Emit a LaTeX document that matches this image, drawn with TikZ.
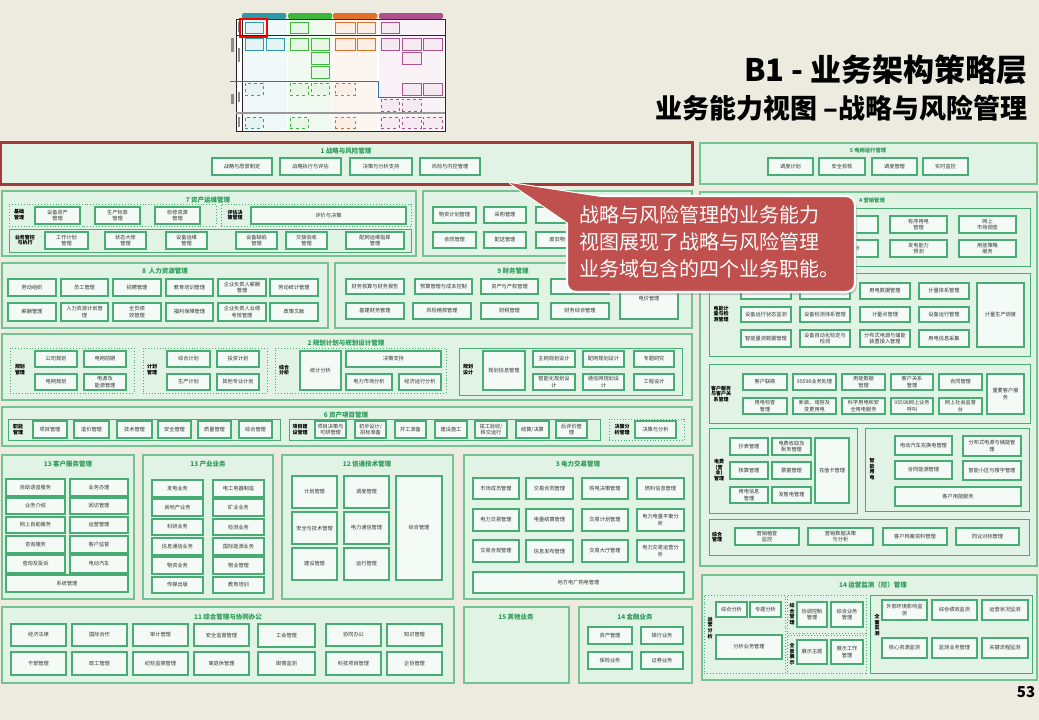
\documentclass[tikz,border=0pt]{standalone}
\usepackage{fontspec}
\setmainfont{Noto Sans CJK SC}
\usetikzlibrary{shadows}
\definecolor{bg}{HTML}{EDEAE0}
\definecolor{secfill}{HTML}{E0F3E5}
\definecolor{secline}{HTML}{72C493}
\definecolor{boxfill}{HTML}{F4FBF6}
\definecolor{boxline}{HTML}{48AD75}
\definecolor{ttl}{HTML}{2E9B58}
\definecolor{txt}{HTML}{333333}
\definecolor{callred}{HTML}{C0504D}
\definecolor{hired}{HTML}{A33A3A}
\definecolor{thteal}{HTML}{2E9AA8}
\definecolor{thgreen}{HTML}{3DB83A}
\definecolor{thorange}{HTML}{E0702A}
\definecolor{thpurple}{HTML}{B0508F}
\definecolor{thblue}{HTML}{2F6FB5}
\tikzset{
 sec/.style={draw=secline, fill=secfill, line width=1.2pt, rectangle, inner sep=0},
 ib/.style={draw=boxline, fill=boxfill, line width=1.1pt, rectangle, inner sep=0, align=center, font=\fontsize{5.2}{6.2}\selectfont, text=txt},
 grp/.style={draw=boxline, line width=0.9pt, rectangle, inner sep=0},
 dgrp/.style={draw=boxline, line width=0.9pt, dotted, rectangle, inner sep=0},
 ttlf/.style={text=ttl, font=\fontsize{6.5}{7}\selectfont\bfseries, inner sep=0},
 ttls/.style={text=ttl, font=\fontsize{5.3}{6}\selectfont\bfseries, inner sep=0},
 lbl/.style={font=\fontsize{5}{5.8}\selectfont\bfseries, align=center, inner sep=0, text=black},
 tic/.style={draw=#1, fill=#1!12, line width=0.7pt, rectangle, inner sep=0},
 ticd/.style={draw=#1, fill=#1!12, line width=0.7pt, dashed, rectangle, inner sep=0},
 tmark/.style={fill=black!45, rectangle, inner sep=0},
}
\newcommand\RB[7]{\node[#6,minimum width={(#4)-(#2)},minimum height={(#5)-(#3)}] (#1) at ({((#2)+(#4))/2},{((#3)+(#5))/2}) {#7};}
\newcommand\IB[6]{\RB{#1}{#2}{#3}{#4}{#5}{ib}{#6}}
\begin{document}
\begin{tikzpicture}[x=1pt,y=-1pt]
\useasboundingbox (0,0) rectangle (1039,720);
\fill[bg] (0,0) rectangle (1039,720);

% ---------- thumbnail ----------
\RB{thf}{236}{19}{445}{131}{draw=black!85, fill=white, line width=0.6pt, rectangle, inner sep=0}{}
\RB{thc1}{243}{20}{287}{130}{fill=thteal!7, rectangle, inner sep=0}{}
\RB{thc2}{288}{20}{332}{130}{fill=thgreen!7, rectangle, inner sep=0}{}
\RB{thc3}{333}{20}{377}{130}{fill=thorange!7, rectangle, inner sep=0}{}
\RB{thc4}{379}{20}{444}{130}{fill=thpurple!7, rectangle, inner sep=0}{}
\RB{thh1}{242}{13}{286}{19}{fill=thteal, rounded corners=1.5pt, rectangle, inner sep=0}{}
\RB{thh2}{288}{13}{332}{19}{fill=thgreen, rounded corners=1.5pt, rectangle, inner sep=0}{}
\RB{thh3}{333}{13}{377}{19}{fill=thorange, rounded corners=1.5pt, rectangle, inner sep=0}{}
\RB{thh4}{379}{13}{443}{19}{fill=thpurple, rounded corners=1.5pt, rectangle, inner sep=0}{}
\draw[black!85, line width=0.5pt] (242,19) -- (242,131);
\draw[black!85, line width=0.5pt] (236,35) -- (445,35);
\draw[thblue, line width=0.7pt] (230,81) -- (378,81) -- (378,97) -- (445,97);
\draw[black!40, line width=1.5pt] (236,113) -- (445,113);
\RB{tm1}{238}{22}{240}{32}{tmark}{}
\RB{tm2}{238}{48}{240}{62}{tmark}{}
\RB{tm3}{238}{92}{240}{102}{tmark}{}
\RB{tm4}{238}{117}{240}{127}{tmark}{}
\RB{tm5}{231}{38}{234}{52}{tmark}{}
\RB{tm6}{231}{94}{234}{104}{tmark}{}
\RB{ti1}{245}{22}{263}{33}{tic=thteal}{}
\RB{ti2}{290}{22}{308}{33}{tic=thgreen}{}
\RB{ti3}{335}{22}{355}{33}{tic=thorange}{}
\RB{ti4}{357}{22}{375}{33}{tic=thorange}{}
\RB{ti5}{381}{22}{399}{33}{tic=thpurple}{}
\RB{ti6}{245}{38}{263}{50}{tic=thteal}{}
\RB{ti7}{266}{38}{284}{50}{tic=thteal}{}
\RB{ti8}{290}{38}{308}{50}{tic=thgreen}{}
\RB{ti9}{311}{38}{329}{50}{tic=thgreen}{}
\RB{ti10}{335}{38}{355}{50}{tic=thorange}{}
\RB{ti11}{357}{38}{375}{50}{tic=thorange}{}
\RB{ti12}{381}{38}{399}{50}{tic=thpurple}{}
\RB{ti13}{402}{38}{421}{50}{tic=thpurple}{}
\RB{ti14}{423}{38}{442}{50}{tic=thpurple}{}
\RB{ti15}{311}{52}{329}{64}{tic=thgreen}{}
\RB{ti16}{311}{66}{329}{78}{tic=thgreen}{}
\RB{ti17}{402}{52}{421}{64}{tic=thpurple}{}
\RB{ti18}{245}{83}{263}{95}{ticd=thteal}{}
\RB{ti19}{290}{83}{308}{95}{ticd=thgreen}{}
\RB{ti20}{311}{83}{329}{95}{ticd=thgreen}{}
\RB{ti21}{335}{83}{355}{95}{ticd=thorange}{}
\RB{ti22}{402}{83}{421}{95}{tic=thpurple}{}
\RB{ti23}{423}{83}{442}{95}{tic=thpurple}{}
\RB{ti24}{381}{99}{399}{111}{ticd=thpurple}{}
\RB{ti25}{402}{99}{421}{111}{ticd=thpurple}{}
\RB{ti26}{245}{117}{263}{128}{ticd=thteal}{}
\RB{ti27}{290}{117}{308}{128}{ticd=thgreen}{}
\RB{ti28}{335}{117}{355}{128}{ticd=thorange}{}
\RB{ti29}{381}{117}{399}{128}{ticd=thpurple}{}
\RB{ti30}{402}{117}{421}{128}{ticd=thpurple}{}
\RB{ti31}{423}{117}{442}{128}{ticd=thpurple}{}
\RB{thr}{240}{19}{267}{37}{draw=red, line width=2.2pt, rectangle, inner sep=0}{}

% ---------- headings ----------
\node[anchor=east, inner sep=0] (h1) at (1028,70) {\fontsize{31}{31}\selectfont\bfseries B1 - 业务架构策略层};
\node[anchor=east, inner sep=0] (h2) at (1028,108) {\fontsize{27}{27}\selectfont\bfseries 业务能力视图 –战略与风险管理};

% ---------- 1 ----------
\RB{s1}{1}{143}{692}{184}{sec}{}
\node[ttlf] (t1) at (346,151) {1 战略与风险管理};
\IB{b1a}{212}{158}{272}{175}{战略与愿景制定}
\IB{b1b}{280}{158}{341}{175}{战略执行与评估}
\IB{b1c}{350}{158}{412}{175}{决策与分析支持}
\IB{b1d}{420}{158}{480}{175}{风险与内控管理}
\draw[hired, line width=2.6pt] (s1.north west) rectangle (s1.south east);

% ---------- 5 ----------
\RB{s5}{700}{143}{1037}{184}{sec}{}
\node[ttls] (t5) at (868,150) {5 电网运行管理};
\IB{b5a}{768}{158}{813}{175}{调度计划}
\IB{b5b}{819}{158}{865}{175}{安全校核}
\IB{b5c}{872}{158}{917}{175}{调度管理}
\IB{b5d}{923}{158}{968}{175}{实时监控}

% ---------- 7 ----------
\RB{s7}{2}{191}{416}{256}{sec}{}
\node[ttlf] (t7) at (208,200) {7 资产运维管理};
\RB{g7a}{9}{204}{216}{226}{dgrp}{}
\node[lbl] (l7a) at (19,215) {基础\\管理};
\IB{b7a}{35}{207}{80}{224}{设备资产\\管理}
\IB{b7b}{95}{207}{140}{224}{生产标准\\管理}
\IB{b7c}{155}{207}{200}{224}{检修资源\\管理}
\RB{g7b}{221}{204}{411}{226}{dgrp}{}
\node[lbl] (l7b) at (235,215) {评估决\\策管理};
\IB{b7d}{251}{207}{406}{224}{评价与决策}
\RB{g7c}{9}{229}{411}{252}{grp}{}
\node[lbl] (l7c) at (25,240) {业务管控\\与执行};
\IB{b7e}{45}{232}{88}{249}{工作计划\\管理}
\IB{b7f}{105}{232}{146}{249}{状态大修\\管理}
\IB{b7g}{166}{232}{207}{249}{设备运维\\管理}
\IB{b7h}{236}{232}{277}{249}{设备缺陷\\管理}
\IB{b7i}{286}{232}{327}{249}{交接验收\\管理}
\IB{b7j}{346}{232}{404}{249}{配网运维指挥\\管理}

% ---------- 物资 ----------
\RB{s10}{423}{191}{692}{256}{sec}{}
\node[ttlf, anchor=west] (t10) at (547,200) {物资管理};
\IB{b10a}{433}{207}{476}{223}{物资计划管理}
\IB{b10b}{484}{207}{526}{223}{采购管理}
\IB{b10c}{536}{207}{590}{223}{}
\IB{b10d}{433}{232}{476}{248}{合同管理}
\IB{b10e}{484}{232}{526}{248}{配送管理}
\IB{b10f}{536}{232}{594}{248}{废旧物资管理}

% ---------- 8 ----------
\RB{s8}{2}{263}{328}{328}{sec}{}
\node[ttlf] (t8) at (165,271) {8 \ 人力资源管理};
\IB{b8a}{8}{279}{56}{296}{劳动组织}
\IB{b8b}{61}{279}{108}{296}{员工管理}
\IB{b8c}{113}{279}{161}{296}{招聘管理}
\IB{b8d}{166}{279}{213}{296}{教育培训管理}
\IB{b8e}{218}{279}{266}{296}{企业负责人薪酬\\管理}
\IB{b8f}{270}{279}{318}{296}{劳动统计管理}
\IB{b8g}{8}{303}{56}{321}{薪酬管理}
\IB{b8h}{61}{303}{108}{321}{人力资源计划管\\理}
\IB{b8i}{113}{303}{161}{321}{全员绩\\效管理}
\IB{b8j}{166}{303}{213}{321}{福利保障管理}
\IB{b8k}{218}{303}{266}{321}{企业负责人业绩\\考核管理}
\IB{b8l}{270}{303}{318}{321}{政策文献}

% ---------- 9 ----------
\RB{s9}{335}{263}{692}{328}{sec}{}
\node[ttlf] (t9) at (513,271) {9 财务管理};
\IB{b9a}{346}{279}{404}{294}{财务核算与财务报告}
\IB{b9b}{415}{279}{472}{294}{预算管理与成本控制}
\IB{b9c}{481}{279}{538}{294}{资产与产权管理}
\IB{b9d}{551}{279}{609}{294}{}
\IB{b9e}{346}{303}{404}{319}{基建财务管理}
\IB{b9f}{413}{303}{471}{319}{风险稽核管理}
\IB{b9g}{481}{303}{538}{319}{财税管理}
\IB{b9h}{551}{303}{609}{319}{财务综合管理}
\IB{b9i}{620}{279}{678}{319}{电价管理}

% ---------- 2 ----------
\RB{s2}{2}{334}{692}{400}{sec}{}
\node[ttlf] (t2) at (346,343) {2 规划计划与规划设计管理};
\RB{g2a}{10}{348}{134}{393}{dgrp}{}
\node[lbl] (l2a) at (20,370) {规划\\管理};
\IB{b2a}{35}{351}{77}{367}{公司规划}
\IB{b2b}{84}{351}{126}{367}{电网前期}
\IB{b2c}{35}{374}{77}{390}{电网规划}
\IB{b2d}{84}{374}{126}{390}{电源及\\能源管理}
\RB{g2b}{143}{348}{267}{393}{dgrp}{}
\node[lbl] (l2b) at (152,370) {计划\\管理};
\IB{b2e}{167}{351}{210}{367}{综合计划}
\IB{b2f}{217}{351}{259}{367}{投资计划}
\IB{b2g}{167}{374}{210}{390}{生产计划}
\IB{b2h}{217}{374}{259}{390}{其他专业计划}
\RB{g2c}{275}{348}{446}{393}{dgrp}{}
\node[lbl] (l2c) at (284,370) {综合\\分析};
\IB{b2i}{300}{351}{341}{390}{统计分析}
\IB{b2j}{346}{351}{441}{367}{决策支持}
\IB{b2k}{346}{374}{392}{390}{电力市场分析}
\IB{b2l}{399}{374}{441}{390}{经济运行分析}
\RB{g2d}{459}{348}{682}{395}{grp}{}
\node[lbl] (l2d) at (468,370) {规划\\设计};
\IB{b2m}{483}{351}{525}{390}{规划信息管理}
\IB{b2n}{533}{351}{575}{367}{主网规划设计}
\IB{b2o}{583}{351}{624}{367}{配网规划设计}
\IB{b2p}{634}{351}{674}{367}{专题研究}
\IB{b2q}{533}{374}{575}{390}{智能化规划设\\计}
\IB{b2r}{583}{374}{624}{390}{通信网规划设\\计}
\IB{b2s}{634}{374}{674}{390}{工程设计}

% ---------- 6 ----------
\RB{s6}{2}{407}{692}{446}{sec}{}
\node[ttlf] (t6) at (346,415) {6 资产项目管理};
\RB{g6a}{8}{419}{280}{440}{grp}{}
\node[lbl] (l6a) at (18,429.5) {职能\\管理};
\IB{b6a}{33}{421}{67}{438}{项目管理}
\IB{b6b}{74}{421}{109}{438}{造价管理}
\IB{b6c}{117}{421}{152}{438}{技术管理}
\IB{b6d}{158}{421}{191}{438}{安全管理}
\IB{b6e}{198}{421}{231}{438}{质量管理}
\IB{b6f}{239}{421}{272}{438}{综合管理}
\RB{g6b}{289}{419}{600}{440}{grp}{}
\node[lbl] (l6b) at (300,429.5) {项目建\\设管理};
\IB{b6g}{315}{421}{346}{438}{项目决策与\\可研管理}
\IB{b6h}{355}{421}{386}{438}{初步设计/\\招标准备}
\IB{b6i}{395}{421}{426}{438}{开工准备}
\IB{b6j}{435}{421}{467}{438}{建设施工}
\IB{b6k}{475}{421}{507}{438}{竣工验收/\\移交运行}
\IB{b6l}{516}{421}{549}{438}{结算/决算}
\IB{b6m}{556}{421}{587}{438}{后评价管\\理}
\RB{g6c}{609}{419}{684}{440}{dgrp}{}
\node[lbl] (l6c) at (622,429.5) {决策分\\析管理};
\IB{b6n}{635}{421}{676}{438}{决策与分析}

% ---------- 13 客户服务 ----------
\RB{s13a}{2}{455}{134}{599}{sec}{}
\node[ttlf] (t13a) at (68,464) {13 客户服务管理};
\IB{c1}{6}{479}{65}{496}{自助语音服务}
\IB{c2}{70}{479}{128}{496}{业务办理}
\IB{c3}{6}{498}{65}{514}{业务介绍}
\IB{c4}{70}{498}{128}{514}{回访管理}
\IB{c5}{6}{517}{65}{533}{网上自助服务}
\IB{c6}{70}{517}{128}{533}{运营管理}
\IB{c7}{6}{536}{65}{553}{咨询服务}
\IB{c8}{70}{536}{128}{553}{客户监督}
\IB{c9}{6}{555}{65}{573}{查询及投诉}
\IB{c10}{70}{555}{128}{573}{电动汽车}
\IB{c11}{6}{575}{128}{592}{系统管理}

% ---------- 13 产业 ----------
\RB{s13b}{143}{455}{273}{599}{sec}{}
\node[ttlf] (t13b) at (208,464) {13 产业业务};
\IB{d1}{152}{480}{203}{497}{发电业务}
\IB{d2}{213}{480}{264}{497}{电工电器制造}
\IB{d3}{152}{499}{203}{516}{房地产业务}
\IB{d4}{213}{499}{264}{516}{矿业业务}
\IB{d5}{152}{519}{203}{535}{科研业务}
\IB{d6}{213}{519}{264}{535}{检测业务}
\IB{d7}{152}{538}{203}{555}{信息通信业务}
\IB{d8}{213}{538}{264}{555}{国际能源业务}
\IB{d9}{152}{557}{203}{574}{物资业务}
\IB{d10}{213}{557}{264}{574}{物业管理}
\IB{d11}{152}{577}{203}{593}{传媒出版}
\IB{d12}{213}{577}{264}{593}{教育培训}

% ---------- 12 ----------
\RB{s12}{282}{455}{453}{599}{sec}{}
\node[ttlf] (t12) at (367,464) {12 信通技术管理};
\IB{e1}{292}{476}{337}{508}{计划管理}
\IB{e2}{344}{476}{389}{508}{调度管理}
\IB{e3}{292}{512}{337}{544}{安全与技术管理}
\IB{e4}{344}{512}{389}{544}{电力通信管理}
\IB{e5}{292}{548}{337}{580}{建设管理}
\IB{e6}{344}{548}{389}{580}{运行管理}
\IB{e7}{396}{476}{442}{580}{综合管理}

% ---------- 3 ----------
\RB{s3}{464}{455}{693}{599}{sec}{}
\node[ttlf] (t3) at (578,464) {3 电力交易管理};
\IB{f1}{473}{478}{519}{499}{市场成员管理}
\IB{f2}{526}{478}{573}{499}{交易合同管理}
\IB{f3}{582}{478}{628}{499}{购电决策管理}
\IB{f4}{637}{478}{684}{499}{燃料信息管理}
\IB{f5}{473}{509}{519}{531}{电力交易管理}
\IB{f6}{526}{509}{573}{531}{电量结算管理}
\IB{f7}{582}{509}{628}{531}{交易计划管理}
\IB{f8}{637}{509}{684}{531}{电力电量平衡分\\析}
\IB{f9}{473}{540}{519}{562}{交易合规管理}
\IB{f10}{526}{540}{573}{562}{信息发布管理}
\IB{f11}{582}{540}{628}{562}{交易大厅管理}
\IB{f12}{637}{540}{684}{562}{电力交易运营分\\析}
\IB{f13}{473}{572}{684}{593}{地方电厂购电管理}

% ---------- 11 ----------
\RB{s11}{2}{607}{454}{683}{sec}{}
\node[ttlf] (t11) at (228,617) {11 综合管理与协同办公};
\IB{g1}{11}{624}{66}{646}{经济法律}
\IB{g2}{72}{624}{127}{646}{国际合作}
\IB{g3}{133}{624}{188}{646}{审计管理}
\IB{g4}{194}{624}{249}{646}{安全监督管理}
\IB{g5}{258}{624}{315}{647}{工会管理}
\IB{g6}{326}{624}{381}{646}{协同办公}
\IB{g7}{387}{624}{442}{646}{知识管理}
\IB{g8}{11}{652}{66}{675}{干部管理}
\IB{g9}{72}{652}{127}{675}{政工管理}
\IB{g10}{133}{652}{188}{675}{纪检监察管理}
\IB{g11}{194}{652}{249}{675}{离退休管理}
\IB{g12}{258}{652}{315}{675}{舆情监测}
\IB{g13}{326}{652}{381}{675}{科技项目管理}
\IB{g14}{387}{652}{442}{675}{企协管理}

% ---------- 15 / 14 金融 ----------
\RB{s15}{464}{607}{569}{683}{sec}{}
\node[ttlf] (t15) at (516,617) {15 其他业务};
\RB{s14a}{579}{607}{692}{683}{sec}{}
\node[ttlf] (t14a) at (635,617) {14 金融业务};
\IB{h1b}{588}{627}{632}{644}{资产管理}
\IB{h2b}{641}{627}{683}{644}{银行业务}
\IB{h3b}{588}{652}{632}{669}{保险业务}
\IB{h4b}{641}{652}{683}{669}{证券业务}

% ---------- 4 ----------
\RB{s4}{700}{192}{1037}{566}{sec}{}
\node[ttls] (t4) at (872,200) {4 营销管理};
\RB{g4a}{709}{208}{1030}{266}{grp}{}
\IB{k1}{752}{216}{809}{233}{}
\IB{k2}{821}{216}{878}{233}{}
\IB{k3}{890}{216}{947}{233}{有序用电\\管理}
\IB{k4}{959}{216}{1016}{233}{网上\\市场调查}
\IB{k5}{752}{240}{809}{257}{}
\IB{k6}{821}{240}{878}{257}{市场分析}
\IB{k7}{890}{240}{947}{257}{发电能力\\预测}
\IB{k8}{959}{240}{1016}{257}{用能策略\\服务}
\RB{g4b}{709}{273}{1030}{356}{grp}{}
\node[lbl] (l4b) at (721,314) {电能计\\量与检\\测管理};
\IB{m1}{741}{283}{791}{299}{}
\IB{m2}{800}{283}{850}{299}{}
\IB{m3}{860}{283}{910}{299}{用电数据管理}
\IB{m4}{919}{283}{969}{299}{计量体系管理}
\IB{m5}{741}{307}{791}{322}{设备运行状态监测}
\IB{m6}{800}{307}{850}{322}{设备检测体系管理}
\IB{m7}{860}{307}{910}{322}{计量点管理}
\IB{m8}{919}{307}{969}{322}{设备运行管理}
\IB{m9}{741}{330}{791}{347}{智能量测数据管理}
\IB{m10}{800}{330}{850}{347}{设备自动化检定与\\检测}
\IB{m11}{860}{330}{910}{347}{分布式电源与储能\\装置接入管理}
\IB{m12}{919}{330}{969}{347}{用电信息采集}
\IB{m13}{977}{283}{1024}{347}{计量生产调度}
\RB{g4c}{709}{364}{1030}{423}{grp}{}
\node[lbl] (l4c) at (721,394) {客户服务\\与客户关\\系管理};
\IB{n1}{743}{374}{787}{390}{客户联络}
\IB{n2}{793}{374}{836}{390}{95598业务处理}
\IB{n3}{842}{374}{885}{390}{用能数据\\管理}
\IB{n4}{891}{374}{933}{390}{客户关系\\管理}
\IB{n5}{939}{374}{982}{390}{合同管理}
\IB{n6}{743}{398}{787}{414}{用电检查\\管理}
\IB{n7}{793}{398}{836}{414}{新装、增容及\\变更用电}
\IB{n8}{842}{398}{885}{414}{科学用电和安\\全用电服务}
\IB{n9}{891}{398}{933}{414}{95598网上业务\\呼叫}
\IB{n10}{939}{398}{982}{414}{网上社会监督\\台}
\IB{n11}{987}{374}{1024}{414}{重要客户服\\务}
\RB{g4d}{709}{428}{857}{513}{grp}{}
\node[lbl] (l4d) at (719,470) {电费\\(营\\业)\\管理};
\IB{p1}{730}{438}{768}{455}{抄表管理}
\IB{p2}{772}{438}{811}{455}{电费收取及\\账务管理}
\IB{p3}{730}{462}{768}{479}{核算管理}
\IB{p4}{772}{462}{811}{479}{票据管理}
\IB{p5}{730}{487}{768}{503}{用电信息\\管理}
\IB{p6}{772}{487}{811}{503}{发售电管理}
\IB{p7}{815}{438}{849}{503}{充值卡管理}
\RB{g4e}{865}{428}{1029}{511}{grp}{}
\node[lbl] (l4e) at (872,469) {智\\能\\用\\电};
\IB{q1}{895}{436}{952}{455}{电动汽车充换电管理}
\IB{q2}{963}{436}{1021}{456}{分布式电源与储能管\\理}
\IB{q3}{895}{461}{952}{479}{合同能源管理}
\IB{q4}{963}{461}{1021}{480}{智能小区与楼宇管理}
\IB{q5}{895}{487}{1021}{506}{客户用能服务}
\RB{g4f}{709}{519}{1029}{555}{grp}{}
\node[lbl] (l4f) at (717,537) {综合\\管理};
\IB{r1}{735}{528}{799}{545}{营销稽查\\监控}
\IB{r2}{808}{528}{873}{545}{营销数据决策\\与分析}
\IB{r3}{883}{528}{947}{545}{客户档案资料管理}
\IB{r4}{956}{528}{1019}{545}{同业对标管理}

% ---------- 14 运营 ----------
\RB{s14b}{702}{575}{1037}{680}{sec}{}
\node[ttlf] (t14b) at (873,585) {14 运营监测（控）管理};
\RB{g14a}{704}{595}{785}{673}{dgrp}{}
\node[lbl] (l14a) at (710,628) {运\\营\\分\\析};
\IB{u1}{716}{602}{747}{617}{综合分析}
\IB{u2}{750}{602}{781}{617}{专题分析}
\IB{u3}{716}{635}{782}{659}{分析业务管理}
\RB{g14b}{787}{595}{866}{633}{dgrp}{}
\node[lbl] (l14b) at (792,614) {综\\合\\管\\理};
\IB{u4}{797}{602}{827}{627}{协调控制\\管理}
\IB{u5}{831}{602}{863}{627}{综合业务\\管理}
\RB{g14c}{787}{635}{866}{673}{dgrp}{}
\node[lbl] (l14c) at (792,654) {全\\景\\展\\示};
\IB{u6}{797}{640}{827}{664}{展示主题}
\IB{u7}{831}{640}{863}{664}{展示工作\\管理}
\RB{g14d}{870}{595}{1032}{673}{grp}{}
\node[lbl] (l14d) at (877,625) {全\\面\\监\\测};
\IB{v1}{882}{600}{927}{620}{外部环境影响监\\测}
\IB{v2}{932}{600}{977}{620}{综合绩效监测}
\IB{v3}{982}{600}{1028}{620}{运营状况监测}
\IB{v4}{882}{638}{927}{658}{核心资源监测}
\IB{v5}{932}{638}{977}{658}{监测业务管理}
\IB{v6}{982}{638}{1028}{658}{关键流程监测}

\node[inner sep=0] (pg) at (1026,692) {\fontsize{15}{15}\selectfont\bfseries 53};

% ---------- callout ----------
\coordinate (tip) at (510,183);
\coordinate (ca) at (620,200);
\coordinate (cb) at (580,231);
\filldraw[callred, draw=white, line width=2.2pt, line join=round] (tip) -- (ca) -- (cb) -- cycle;
\RB{co}{567}{196}{855}{292}{fill=callred, draw=white, line width=2.2pt, rounded corners=9pt, rectangle, inner sep=0, drop shadow={opacity=0.35, shadow xshift=2pt, shadow yshift=-3pt}}{}
\fill[callred] (tip) -- (ca) -- (cb) -- cycle;
\node[align=left, text=white, inner sep=0, anchor=west, font=\fontsize{20}{27}\selectfont] (cot) at (579,242)
 {战略与风险管理的业务能力\\视图展现了战略与风险管理\\业务域包含的四个业务职能。};
\end{tikzpicture}
\end{document}
